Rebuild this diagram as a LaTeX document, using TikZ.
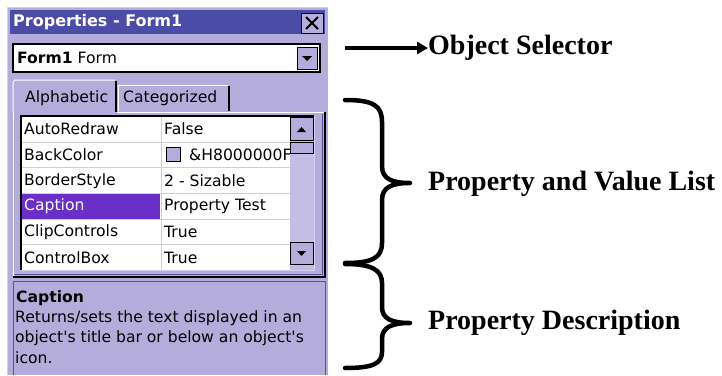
\documentclass[tikz,border=0pt]{standalone}
\usepackage{fontspec}
\setmainfont{Liberation Serif}
\newfontfamily\winfont{DejaVu Sans}
\usetikzlibrary{arrows.meta}
\definecolor{lav}{HTML}{B4ACDA}
\definecolor{lavlight}{HTML}{D4CEF0}
\definecolor{lavdark}{HTML}{5A5298}
\definecolor{titleblue}{HTML}{4B4BA8}
\definecolor{capsel}{HTML}{6A2FC8}
\definecolor{gridline}{HTML}{D0D0D0}
\definecolor{track}{HTML}{C4BEE4}
\tikzset{
  x=1pt, y=-1pt,
  wtext/.style={font=\winfont\fontsize{15.6}{18}\selectfont, anchor=west, inner sep=0pt, text=black},
  wbold/.style={wtext, font=\winfont\bfseries\fontsize{15.6}{18}\selectfont},
  label/.style={font=\bfseries\fontsize{28}{30}\selectfont, anchor=west, inner sep=0pt},
  brace/.style={line width=4.5pt, line cap=round, line join=round},
  btn/.style={fill=lav, draw=black, line width=1pt},
}
\begin{document}
\begin{tikzpicture}
\useasboundingbox (0,0) rectangle (722,375);
\fill[white] (0,0) rectangle (722,375);
% window
\fill[lav] (7,7) rectangle (328,375);
\draw[lavlight, line width=1pt] (7.5,375) -- (7.5,7.5) -- (328,7.5);
% title bar
\fill[titleblue] (10,10) rectangle (325,34);
\node[wbold, text=white, font=\winfont\bfseries\fontsize{16}{18}\selectfont] (title) at (13,22) {Properties - Form1};
\node[btn, minimum width=22pt, minimum height=20pt, inner sep=0pt] (close) at (312,23) {};
\draw[line width=2pt] (close.center) ++(-6,-6) -- ++(12,12) (close.center) ++(6,-6) -- ++(-12,12);
% combo box
\draw[fill=white, draw=black, line width=1.5pt] (13,44) rectangle (320,72);
\node[wtext] (combo) at (17,58) {\textbf{Form1}\ Form};
\node[btn, minimum width=20pt, minimum height=22pt, inner sep=0pt] (drop) at (307,58) {};
\fill (302,56) -- (312,56) -- (307,61) -- cycle;
% tab page frame
\fill[lav] (13,112) rectangle (325,277);
\draw[white, line width=1pt] (13,277) -- (13,112) -- (325,112);
\draw[black, line width=1.5pt] (325,112) -- (325,277) -- (13,277);
\draw[lavdark, line width=1pt] (322,114) -- (322,274) -- (15,274);
% tabs
\fill[lav] (13,80) rectangle (117,113);
\draw[white, line width=1pt] (13,113) -- (13,82) -- (15,80) -- (115,80);
\draw[black, line width=1.5pt] (116,81) -- (116,112);
\node[wtext] (tabA) at (25,98) {Alphabetic};
\draw[white, line width=1pt] (118,111) -- (118,85) -- (228,85);
\draw[black, line width=1.5pt] (229,86) -- (229,111);
\node[wtext] (tabC) at (123,98) {Categorized};
% grid
\fill[white] (21,116) rectangle (314,270);
\foreach \yy in {142,167,193,219,244}{\draw[gridline, line width=1pt] (21,\yy) -- (290,\yy);}
\draw[gridline, line width=1pt] (161,116) -- (161,270);
\fill[capsel] (22,194) rectangle (160,218.5);
\begin{scope}
\clip (21,116) rectangle (290,270);
\node[wtext] (n1) at (24,129) {AutoRedraw};
\node[wtext] (n2) at (24,155) {BackColor};
\node[wtext] (n3) at (24,181) {BorderStyle};
\node[wtext, text=white] (n4) at (24,206) {Caption};
\node[wtext] (n5) at (24,232) {ClipControls};
\node[wtext] (n6) at (24,258) {ControlBox};
\node[wtext] (v1) at (164,129) {False};
\node[draw=black, fill=lav, line width=1pt, minimum size=14pt, inner sep=0pt] (swatch) at (173,154) {};
\node[wtext] (v2) at (189,155) {\&H8000000F};
\node[wtext] (v3) at (164,181) {2 - Sizable};
\node[wtext] (v4) at (164,206) {Property Test};
\node[wtext] (v5) at (164,232) {True};
\node[wtext] (v6) at (164,258) {True};
\end{scope}
% scrollbar
\fill[track] (290,116) rectangle (314,270);
\node[btn, minimum width=23pt, minimum height=23pt, inner sep=0pt] (up) at (301.5,129) {};
\fill (297,132) -- (306,132) -- (301.5,127) -- cycle;
\node[btn, minimum width=23pt, minimum height=11pt, inner sep=0pt] (thumb) at (301.5,148) {};
\node[btn, minimum width=23pt, minimum height=22pt, inner sep=0pt] (down) at (301.5,253) {};
\fill (297,251) -- (306,251) -- (301.5,256) -- cycle;
\draw[black, line width=1.5pt] (21,270) -- (21,116) -- (314,116);
\draw[lavlight, line width=1pt] (314,116) -- (314,270) -- (21,270);
% description panel
\fill[lav] (13,281) rectangle (325,375);
\draw[lavdark, line width=1pt] (13,375) -- (13,281) -- (325,281) -- (325,375);
\node[wbold] (dcap) at (16,298) {Caption};
\node[wtext] (d1) at (15,318) {Returns/sets the text displayed in an};
\node[wtext] (d2) at (15,338) {object's title bar or below an object's};
\node[wtext] (d3) at (15,358) {icon.};
% annotations
\node[label] (objsel) at (428,48) {Object Selector};
\coordinate (arrstart) at (345,48);
\draw[line width=4pt, -{Triangle[length=11pt,width=12pt]}] (arrstart) -- (objsel.west);
\node[label] (pvl) at (428,184) {Property and Value List};
\node[label] (pdesc) at (428,323) {Property Description};
\coordinate (tip1) at (410,183);
\coordinate (tip2) at (410,323);
\draw[brace] (345,100) .. controls (374,100) and (382,106) .. (382,122) -- (382,166)
  .. controls (382,179) and (392,183) .. (tip1)
  .. controls (392,183) and (382,187) .. (382,200) -- (382,243)
  .. controls (382,258) and (372,263) .. (345,263);
\draw[brace] (345,264) .. controls (372,264) and (382,270) .. (382,283) -- (382,307)
  .. controls (382,319) and (392,323) .. (tip2)
  .. controls (392,323) and (382,327) .. (382,339) -- (382,352)
  .. controls (382,364) and (372,368) .. (345,368);
\end{tikzpicture}
\end{document}
